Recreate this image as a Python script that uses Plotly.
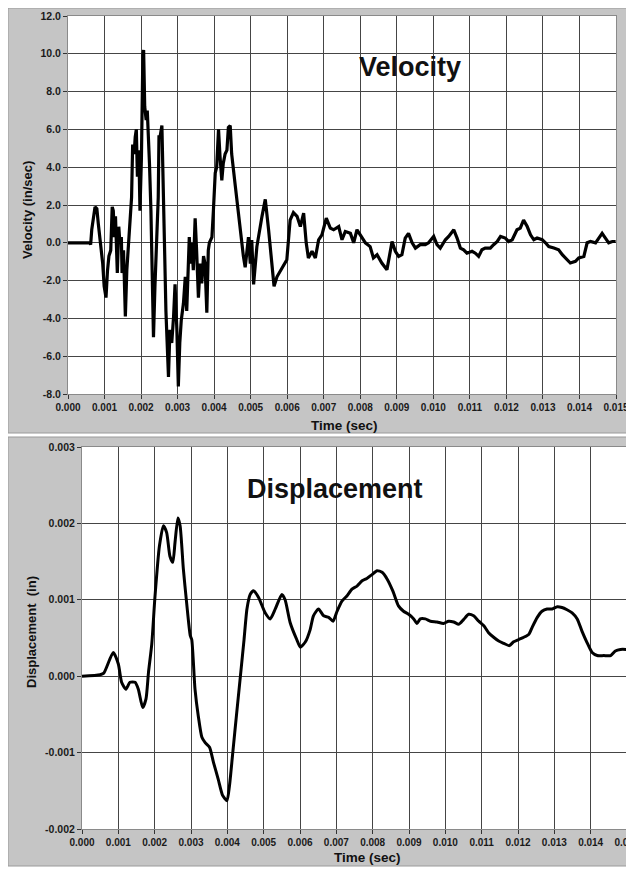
import plotly.graph_objects as go

# ---------------- data ----------------
# Velocity trace (time in ms, velocity in in/sec)
vel_t_ms = [0.00, 0.60, 0.62, 0.65, 0.74, 0.79, 0.83, 0.89, 0.95, 0.99, 1.04, 1.08, 1.12, 1.17,
            1.21, 1.24, 1.27, 1.30, 1.33, 1.35, 1.39, 1.42, 1.46, 1.48, 1.52, 1.54, 1.57, 1.61,
            1.65, 1.70, 1.74, 1.77, 1.81, 1.84, 1.87, 1.90, 1.94, 1.97, 2.01, 2.05, 2.07, 2.10,
            2.14, 2.17, 2.20, 2.23, 2.27, 2.30, 2.32, 2.34, 2.38, 2.43, 2.47, 2.49, 2.52, 2.57,
            2.61, 2.64, 2.68, 2.70, 2.75, 2.79, 2.84, 2.89, 2.93, 2.98, 3.02, 3.06, 3.10, 3.16,
            3.21, 3.25, 3.30, 3.32, 3.36, 3.39, 3.43, 3.48, 3.52, 3.57, 3.62, 3.66, 3.71, 3.75,
            3.80, 3.84, 3.87, 3.94, 3.98, 4.03, 4.07, 4.12, 4.16, 4.21, 4.25, 4.30, 4.35, 4.39,
            4.44, 4.48, 4.58, 4.67, 4.74, 4.80, 4.85, 4.94, 4.99, 5.03, 5.08, 5.17, 5.31, 5.40,
            5.49, 5.58, 5.64, 5.72, 5.81, 5.90, 5.99, 6.08, 6.17, 6.27, 6.36, 6.45, 6.52, 6.58,
            6.68, 6.77, 6.86, 6.95, 7.07, 7.18, 7.27, 7.41, 7.50, 7.59, 7.73, 7.82, 7.91, 8.00,
            8.14, 8.27, 8.36, 8.46, 8.59, 8.73, 8.82, 8.87, 8.96, 9.05, 9.14, 9.23, 9.32, 9.42,
            9.51, 9.64, 9.78, 9.87, 10.01, 10.10, 10.19, 10.33, 10.42, 10.56, 10.65, 10.74, 10.83,
            10.92, 11.06, 11.15, 11.24, 11.33, 11.42, 11.56, 11.65, 11.75, 11.84, 11.97, 12.06,
            12.16, 12.29, 12.38, 12.47, 12.57, 12.66, 12.75, 12.84, 12.98, 13.07, 13.16, 13.30,
            13.43, 13.53, 13.66, 13.75, 13.89, 13.98, 14.12, 14.21, 14.30, 14.44, 14.53, 14.62,
            14.71, 14.80, 14.90, 14.99]
vel_v = [0.0, 0.0, -0.1, 0.7, 1.9, 1.8, 1.0, 0.0, -1.1, -2.3, -2.9, -1.5, -0.7, -0.4,
         1.9, 1.7, 0.3, 1.4, -0.4, -1.6, 0.85, 0.0, 0.3, -1.6, -0.4, -2.0, -3.9, -1.45,
         -0.4, 1.0, 2.4, 5.2, 4.7, 5.6, 6.0, 3.5, 4.9, 1.7, 4.5, 10.0, 10.2, 7.2,
         6.5, 7.0, 4.9, 4.2, 1.7, -1.1, -3.6, -5.0, -2.3, 0.0, 2.4, 5.6, 5.6, 6.2,
         3.5, 0.0, -3.6, -5.0, -7.1, -4.6, -5.3, -3.9, -2.2, -4.6, -7.6, -5.3, -4.1, -3.2,
         -1.8, -3.6, -1.1, 0.3, -1.1, 0.0, -1.45, 1.3, -0.4, -2.9, -1.1, -2.15, -0.7, -1.1,
         -3.7, -0.4, 0.0, 0.3, 1.7, 3.7, 4.0, 6.0, 4.6, 3.3, 4.2, 4.7, 4.9, 6.1,
         6.2, 4.7, 3.0, 1.4, 0.0, -0.7, -1.3, 0.3, -1.1, 0.15, -2.2, -0.2, 1.4, 2.3,
         0.7, -1.25, -2.3, -1.8, -1.5, -1.25, -0.9, 1.2, 1.6, 1.4, 0.86, 1.57, 0.0, -0.8,
         -0.45, -0.8, 0.16, 0.42, 1.3, 0.78, 0.69, 0.86, 0.16, 0.6, 0.5, 0.0, 0.69, 0.42,
         0.0, -0.2, -0.8, -0.63, -1.07, -1.43, -0.55, 0.07, -0.45, -0.72, -0.63, 0.25, 0.5, 0.0,
         -0.28, -0.1, -0.1, 0.0, 0.34, -0.1, -0.28, 0.16, 0.34, 0.69, 0.25, -0.28, -0.37,
         -0.55, -0.45, -0.55, -0.72, -0.37, -0.28, -0.28, -0.1, 0.07, 0.34, 0.25, 0.07,
         0.16, 0.69, 0.78, 1.2, 0.86, 0.42, 0.16, 0.25, 0.16, 0.0, -0.2, -0.28,
         -0.37, -0.63, -0.9, -1.07, -0.98, -0.8, -0.72, 0.0, 0.07, 0.0, 0.25, 0.5,
         0.25, 0.0, 0.07, 0.07]

# Displacement trace (time in ms, displacement in inches)
disp_t_ms = [0.00, 0.50, 0.60, 0.86, 1.00, 1.09, 1.21, 1.32, 1.46, 1.55, 1.67, 1.76, 1.83,
             1.92, 2.01, 2.13, 2.24, 2.33, 2.42, 2.50, 2.56, 2.64, 2.70, 2.79, 2.88, 2.98,
             3.02, 3.11, 3.20, 3.30, 3.39, 3.51, 3.62, 3.75, 3.87, 3.99, 4.06, 4.15, 4.26,
             4.37, 4.46, 4.54, 4.63, 4.72, 4.86, 5.04, 5.18, 5.32, 5.50, 5.59, 5.73, 5.91,
             6.01, 6.15, 6.28, 6.37, 6.51, 6.65, 6.79, 6.91, 7.02, 7.15, 7.29, 7.43, 7.57,
             7.71, 7.84, 7.98, 8.12, 8.26, 8.40, 8.56, 8.71, 8.85, 8.99, 9.13, 9.22, 9.31,
             9.45, 9.59, 9.77, 9.95, 10.09, 10.23, 10.37, 10.50, 10.64, 10.78, 10.92, 11.06,
             11.19, 11.33, 11.47, 11.61, 11.76, 11.88, 12.02, 12.16, 12.30, 12.39, 12.53,
             12.66, 12.80, 12.94, 13.08, 13.21, 13.35, 13.49, 13.63, 13.76, 13.90, 14.04,
             14.18, 14.36, 14.55, 14.68, 14.82, 15.00]
disp_in = [0.0, 0.00002, 0.00004, 0.00031, 0.00016, -0.00008, -0.00017, -0.00008, -0.00008,
           -0.00017, -0.00041, -0.00030, 0.00005, 0.00042, 0.00105, 0.00170, 0.00197, 0.00188,
           0.00157, 0.00149, 0.00175, 0.00207, 0.00197, 0.00140, 0.00096, 0.00053, 0.00048,
           -0.00017, -0.00052, -0.00080, -0.00087, -0.00093, -0.00113, -0.00135, -0.00156,
           -0.00163, -0.00143, -0.00100, -0.00047, 0.00005, 0.00048, 0.00088, 0.00107, 0.00112,
           0.00103, 0.00083, 0.00075, 0.00088, 0.00107, 0.00100, 0.00070, 0.00048, 0.00038,
           0.00045, 0.00061, 0.00079, 0.00088, 0.00079, 0.00077, 0.00072, 0.00085, 0.00098,
           0.00105, 0.00114, 0.00118, 0.00125, 0.00128, 0.00133, 0.00138, 0.00136, 0.00127,
           0.00111, 0.00092, 0.00085, 0.00081, 0.00075, 0.00069, 0.00075, 0.00075, 0.00072,
           0.00071, 0.00069, 0.00072, 0.00071, 0.00068, 0.00074, 0.00081, 0.00079, 0.00072,
           0.00066, 0.00057, 0.00051, 0.00046, 0.00043, 0.00040, 0.00045, 0.00048, 0.00051,
           0.00055, 0.00064, 0.00077, 0.00085, 0.00088, 0.00088, 0.00091, 0.00090, 0.00087,
           0.00083, 0.00075, 0.00059, 0.00044, 0.00031, 0.00027, 0.00027, 0.00027, 0.00033,
           0.00035, 0.00035]

x_tickvals = [0.000, 0.001, 0.002, 0.003, 0.004, 0.005, 0.006, 0.007, 0.008, 0.009,
              0.010, 0.011, 0.012, 0.013, 0.014, 0.015]
x_ticktext = ["0.000", "0.001", "0.002", "0.003", "0.004", "0.005", "0.006", "0.007",
              "0.008", "0.009", "0.010", "0.011", "0.012", "0.013", "0.014", "0.015"]
vel_tickvals = [-8, -6, -4, -2, 0, 2, 4, 6, 8, 10, 12]
vel_ticktext = ["-8.0", "-6.0", "-4.0", "-2.0", "0.0", "2.0", "4.0", "6.0", "8.0", "10.0", "12.0"]
disp_tickvals = [-0.002, -0.001, 0.000, 0.001, 0.002, 0.003]
disp_ticktext = ["-0.002", "-0.001", "0.000", "0.001", "0.002", "0.003"]

vel_t = [t / 1000.0 for t in vel_t_ms]
disp_t = [t / 1000.0 for t in disp_t_ms]

# ---------------- figure ----------------
# The page body has an 8px margin, so the figure is drawn 8px in from the
# top-left corner of the 634x870 window.
OFF = 8
W, H = 634 - OFF, 870 - OFF


def px_x(p):
    return max(0.0, (p - OFF) / W)


def px_y(p):
    return min(1.0, 1 - (p - OFF) / H)


FONT = "Liberation Sans, Arial, sans-serif"
GRID = "#454545"
PANEL = "#c5c5c5"

# plot-area pixel boxes in window pixels (left, right, top, bottom)
TOP_BOX = (68, 616, 16, 394)
BOT_BOX = (82, 627, 447, 829)

fig = go.Figure()
fig.add_trace(go.Scatter(x=vel_t, y=vel_v, mode="lines", xaxis="x", yaxis="y",
                         line=dict(color="#000000", width=3.2), showlegend=False))
fig.add_trace(go.Scatter(x=disp_t, y=disp_in, mode="lines", xaxis="x2", yaxis="y2",
                         line=dict(color="#000000", width=3, shape="spline", smoothing=0.6),
                         showlegend=False))

tickfont = dict(family=FONT, size=10, color="#1a1a1a", weight="bold")

common_x = dict(tickvals=x_tickvals, ticktext=x_ticktext, range=[0, 0.015],
                showgrid=True, gridcolor=GRID, gridwidth=1.2, zeroline=False,
                ticks="outside", ticklen=4, tickcolor="#333333", tickwidth=1,
                showline=True, linecolor="#8a8a8a", linewidth=1, mirror=True,
                tickfont=tickfont, fixedrange=True, automargin=False,
                ticklabeloverflow="allow")
common_y = dict(showgrid=True, gridcolor=GRID, gridwidth=1.4, zeroline=False,
                ticks="outside", ticklen=4, tickcolor="#333333", tickwidth=1,
                showline=True, linecolor="#8a8a8a", linewidth=1, mirror=True,
                tickfont=dict(family=FONT, size=10.5, color="#1a1a1a", weight="bold"),
                fixedrange=True, automargin=False)

shapes = [
    dict(type="rect", xref="paper", yref="paper", layer="below",
         x0=px_x(8), x1=1, y0=px_y(433), y1=px_y(8),
         fillcolor=PANEL, line=dict(color="#9a9a9a", width=1)),
    dict(type="rect", xref="paper", yref="paper", layer="below",
         x0=px_x(8), x1=1, y0=px_y(866), y1=px_y(437),
         fillcolor=PANEL, line=dict(color="#9a9a9a", width=1)),
]
for (l, r, t, b) in (TOP_BOX, BOT_BOX):
    shapes.append(dict(type="rect", xref="paper", yref="paper", layer="below",
                       x0=px_x(l), x1=px_x(r), y0=px_y(b), y1=px_y(t),
                       fillcolor="#ffffff", line=dict(width=0)))

fig.update_layout(
    width=W, height=H,
    margin=dict(l=0, r=0, t=0, b=0, autoexpand=False),
    paper_bgcolor="#ffffff",
    plot_bgcolor="rgba(0,0,0,0)",
    xaxis=dict(domain=[px_x(TOP_BOX[0]), px_x(TOP_BOX[1])], anchor="y", **common_x),
    yaxis=dict(domain=[px_y(TOP_BOX[3]), px_y(TOP_BOX[2])], anchor="x", range=[-8, 12],
               tickvals=vel_tickvals, ticktext=vel_ticktext, **common_y),
    xaxis2=dict(domain=[px_x(BOT_BOX[0]), px_x(BOT_BOX[1])], anchor="y2", **common_x),
    yaxis2=dict(domain=[px_y(BOT_BOX[3]), px_y(BOT_BOX[2])], anchor="x2", range=[-0.002, 0.003],
                tickvals=disp_tickvals, ticktext=disp_ticktext, **common_y),
    shapes=shapes,
)

anns = [
    dict(text="Velocity", x=px_x(410), y=px_y(67), size=27, angle=0),
    dict(text="Displacement", x=px_x(335), y=px_y(489), size=27, angle=0),
    dict(text="Time (sec)", x=px_x(344), y=px_y(426), size=13.5, angle=0),
    dict(text="Time (sec)", x=px_x(367), y=px_y(857), size=13.5, angle=0),
    dict(text="Velocity (in/sec)", x=px_x(27), y=px_y(210), size=13, angle=-90),
    dict(text="Displacement  (in)", x=px_x(31), y=px_y(632), size=13, angle=-90),
]
fig.layout.annotations = [
    dict(text=a["text"], x=a["x"], y=a["y"], xref="paper", yref="paper",
         xanchor="center", yanchor="middle", showarrow=False, textangle=a["angle"],
         font=dict(family=FONT, size=a["size"], color="#111111", weight="bold"))
    for a in anns
]

fig.write_html("out.html")
